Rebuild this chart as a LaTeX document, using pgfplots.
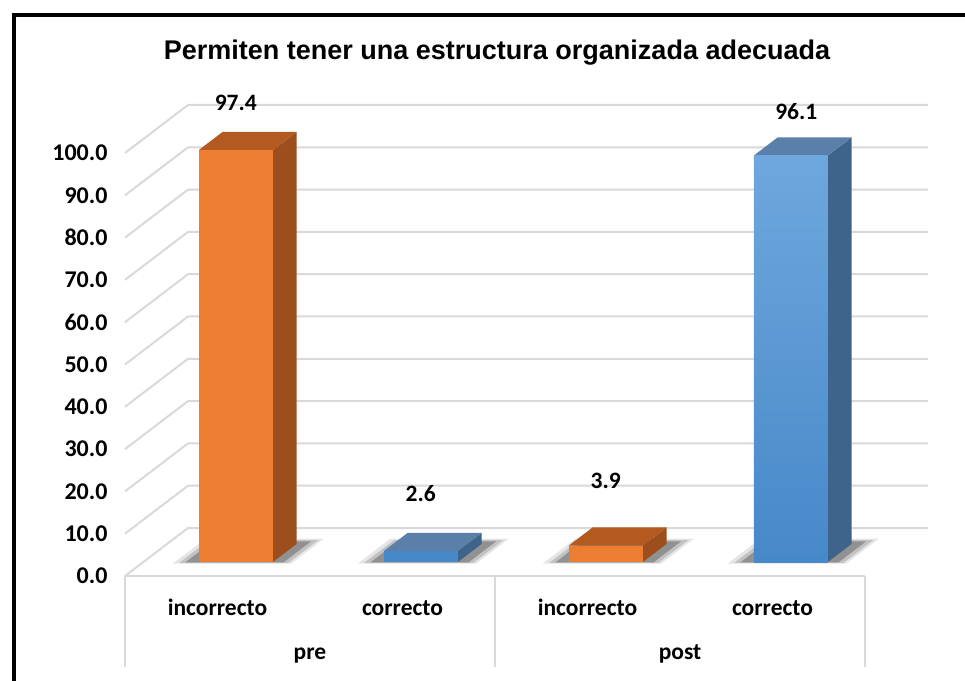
\documentclass[border=0pt]{standalone}
\usepackage{pgfplots}
\pgfplotsset{compat=1.18}
\usepackage{fontspec}
\setmainfont{Carlito}
\newfontfamily\titlefont{Liberation Sans}
\definecolor{orF}{HTML}{ED7D31}
\definecolor{orS}{HTML}{9C4F1D}
\definecolor{orT}{HTML}{B35A21}
\definecolor{blFt}{HTML}{6EA7DD}
\definecolor{blFb}{HTML}{4788C8}
\definecolor{blS}{HTML}{3F648C}
\definecolor{blT}{HTML}{5A80AA}
\definecolor{gridc}{HTML}{D9D9D9}
\begin{document}
\begin{tikzpicture}
\path[use as bounding box] (0,0) rectangle (965pt,680pt);
\fill[white] (0,0) rectangle (965pt,680pt);
\draw[line width=3.5pt] (14pt,-10pt) -- (14pt,665pt) -- (980pt,665pt);
\node[font=\titlefont\bfseries\fontsize{27}{31}\selectfont, anchor=base] at (497pt,620pt) {Permiten tener una estructura organizada adecuada};

% 2D axis: value ticks and category labels
\begin{axis}[at={(217.5pt,104pt)}, anchor=origin,
  x=185pt, y=4.23pt,
  xmin=-0.5, xmax=3.5, ymin=0, ymax=100,
  axis lines*=left,
  x axis line style={draw=gridc, line width=2pt},
  y axis line style={draw=none},
  ytick={0,10,...,100},
  ytick style={draw=none},
  /pgf/number format/.cd, fixed, fixed zerofill, precision=1, assume math mode=true,
  /pgfplots/.cd,
  yticklabel style={font=\bfseries\fontsize{24}{28}\selectfont, xshift=-14pt},
  xtick={0,1,2,3},
  xticklabels={incorrecto,correcto,incorrecto,correcto},
  xticklabel style={font=\bfseries\fontsize{23.5}{28}\selectfont, anchor=base, yshift=-39pt},
  extra x ticks={0.5,2.5},
  extra x tick labels={pre,post},
  extra x tick style={tick label style={yshift=-44pt}},
  minor xtick={-0.5,1.5,3.5},
  tick align=outside,
  major tick length=0pt,
  minor tick length=91pt,
  major x tick style={draw=none},
  minor x tick style={draw=gridc, line width=2pt},
  clip=false]
\end{axis}

% 3D axis: walls, bars, labels
\begin{axis}[at={(217.5pt,104pt)}, anchor=origin,
  x={(185pt,0pt)}, y={(63pt,48pt)}, z={(0pt,4.23pt)},
  xmin=-0.5, xmax=3.5, ymin=0, ymax=1, zmin=0, zmax=100,
  hide axis, clip=false]
\pgfplotsinvokeforeach{0,10,20,30,40,50,60,70,80,90,100}{
  \addplot3[draw=gridc, line width=2pt] coordinates {(-0.5,0,#1) (-0.5,1,#1) (3.5,1,#1)};
}
% soft shadows
\pgfplotsinvokeforeach{0,1,2,3}{
  \addplot3[fill=black, draw=none, opacity=0.10] coordinates {(#1-0.33,0.26,0) (#1+0.31,0.26,0) (#1+0.31,0.78,0) (#1-0.33,0.78,0)} -- cycle;
  \addplot3[fill=black, draw=none, opacity=0.15] coordinates {(#1-0.30,0.275,0) (#1+0.29,0.275,0) (#1+0.29,0.75,0) (#1-0.30,0.75,0)} -- cycle;
  \addplot3[fill=black, draw=none, opacity=0.25] coordinates {(#1-0.27,0.285,0) (#1+0.26,0.285,0) (#1+0.26,0.72,0) (#1-0.27,0.72,0)} -- cycle;
}
% bar pre / incorrecto = 97.4
\addplot3[fill=orS, draw=none] coordinates {(0.2,0.29,0) (0.2,0.67,0) (0.2,0.67,97.4) (0.2,0.29,97.4)} -- cycle;
\addplot3[fill=orT, draw=none] coordinates {(-0.2,0.29,97.4) (0.2,0.29,97.4) (0.2,0.67,97.4) (-0.2,0.67,97.4)} -- cycle;
\addplot3[fill=orF, draw=none] coordinates {(-0.2,0.29,0) (0.2,0.29,0) (0.2,0.29,97.4) (-0.2,0.29,97.4)} -- cycle;
% bar pre / correcto = 2.6
\addplot3[fill=blS, draw=none] coordinates {(1.2,0.29,0) (1.2,0.67,0) (1.2,0.67,2.6) (1.2,0.29,2.6)} -- cycle;
\addplot3[fill=blT, draw=none] coordinates {(0.8,0.29,2.6) (1.2,0.29,2.6) (1.2,0.67,2.6) (0.8,0.67,2.6)} -- cycle;
\addplot3[fill=blFb, draw=none] coordinates {(0.8,0.29,0) (1.2,0.29,0) (1.2,0.29,2.6) (0.8,0.29,2.6)} -- cycle;
% bar post / incorrecto = 3.9
\addplot3[fill=orS, draw=none] coordinates {(2.2,0.29,0) (2.2,0.67,0) (2.2,0.67,3.9) (2.2,0.29,3.9)} -- cycle;
\addplot3[fill=orT, draw=none] coordinates {(1.8,0.29,3.9) (2.2,0.29,3.9) (2.2,0.67,3.9) (1.8,0.67,3.9)} -- cycle;
\addplot3[fill=orF, draw=none] coordinates {(1.8,0.29,0) (2.2,0.29,0) (2.2,0.29,3.9) (1.8,0.29,3.9)} -- cycle;
% bar post / correcto = 96.1
\addplot3[fill=blS, draw=none] coordinates {(3.2,0.29,0) (3.2,0.67,0) (3.2,0.67,96.1) (3.2,0.29,96.1)} -- cycle;
\addplot3[fill=blT, draw=none] coordinates {(2.8,0.29,96.1) (3.2,0.29,96.1) (3.2,0.67,96.1) (2.8,0.67,96.1)} -- cycle;
\addplot3[top color=blFt, bottom color=blFb, draw=none] coordinates {(2.8,0.29,0) (3.2,0.29,0) (3.2,0.29,96.1) (2.8,0.29,96.1)} -- cycle;
% data labels
\node[font=\bfseries\fontsize{23.5}{28}\selectfont] at (axis cs:0,0.29,108.5) {97.4};
\node[font=\bfseries\fontsize{23.5}{28}\selectfont] at (axis cs:1,0.29,16.3) {2.6};
\node[font=\bfseries\fontsize{23.5}{28}\selectfont] at (axis cs:2,0.29,19.1) {3.9};
\node[font=\bfseries\fontsize{23.5}{28}\selectfont] at (axis cs:3.03,0.29,106.4) {96.1};
\end{axis}
\end{tikzpicture}
\end{document}
